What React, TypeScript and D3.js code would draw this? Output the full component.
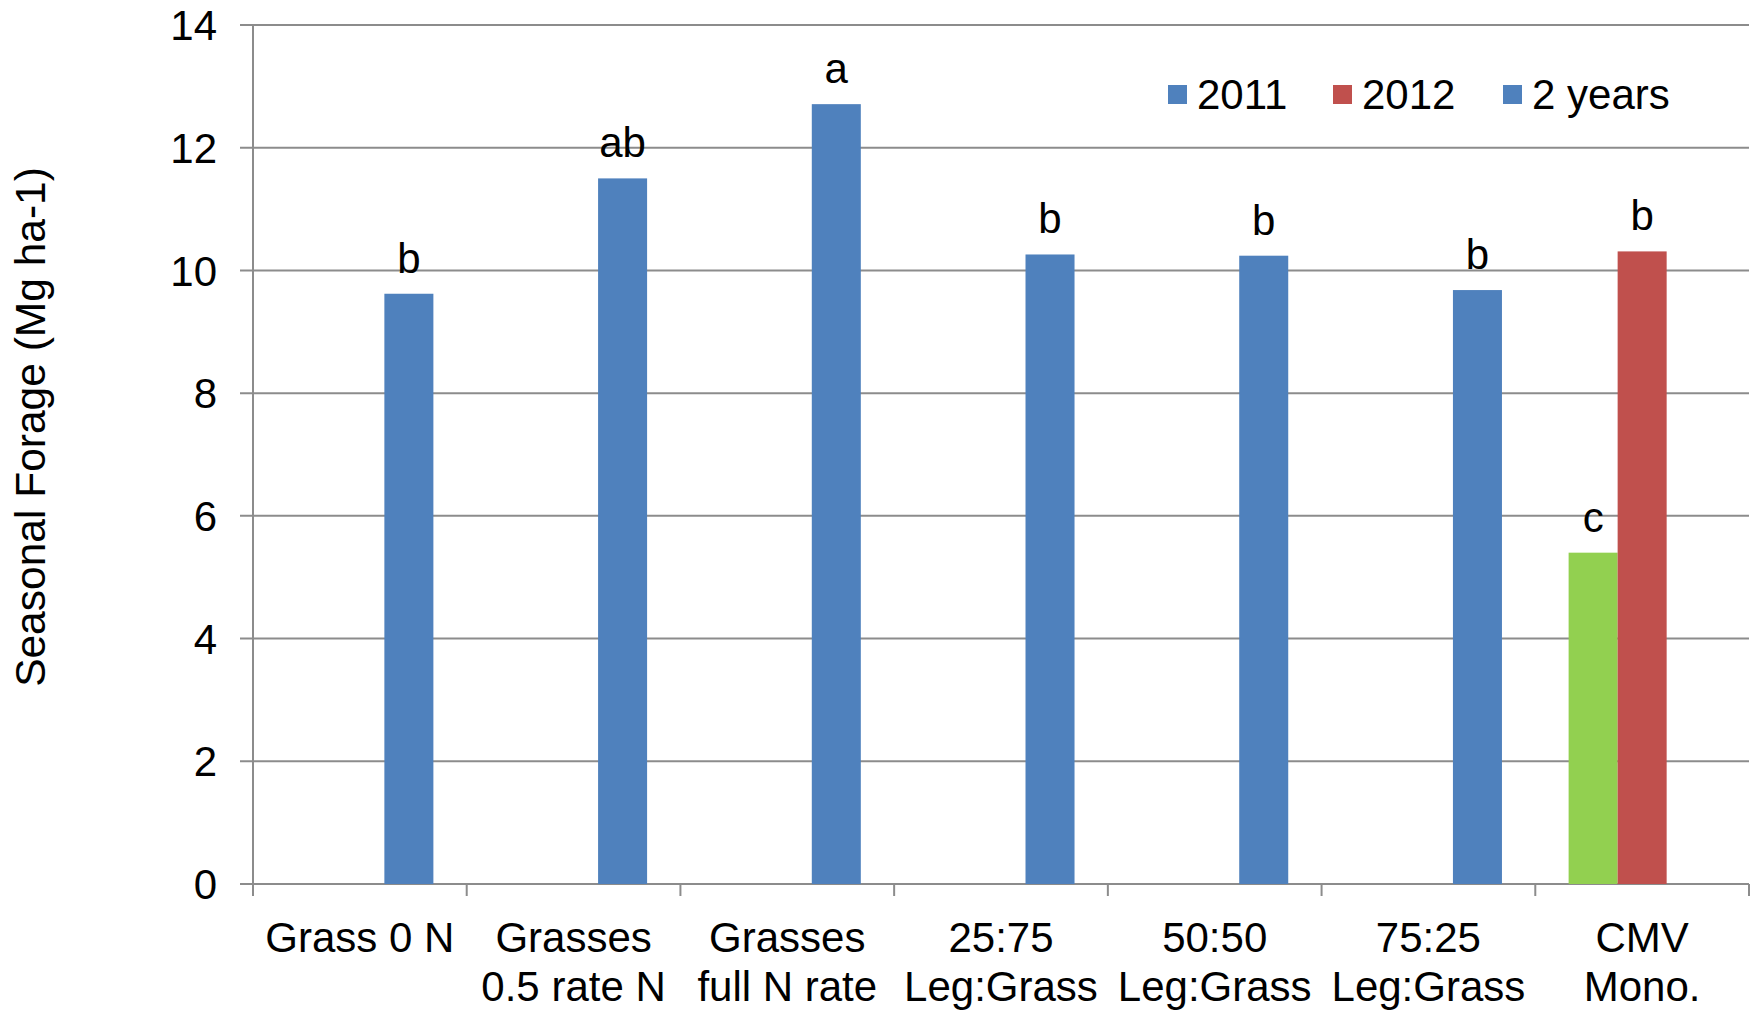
import React from 'react';
import * as d3 from 'd3';

// treatments on the x axis (two-line labels)
const categories = [
    ['Grass 0 N'],
    ['Grasses', '0.5 rate N'],
    ['Grasses', 'full N rate'],
    ['25:75', 'Leg:Grass'],
    ['50:50', 'Leg:Grass'],
    ['75:25', 'Leg:Grass'],
    ['CMV', 'Mono.'],
];
const seriesNames = ['2011', '2012', '2 years'];
const values2011 = [null, null, null, null, null, null, 5.4];
const values2012 = [null, null, null, null, null, null, 10.31];
const valuesTwoYears = [9.62, 11.5, 12.71, 10.26, 10.24, 9.68, null];
const letters2011 = [null, null, null, null, null, null, 'c'];
const letters2012 = [null, null, null, null, null, null, 'b'];
const lettersTwoYears = ['b', 'ab', 'a', 'b', 'b', 'b', null];
const yTicks = [0, 2, 4, 6, 8, 10, 12, 14];

const colours = { '2011': '#4f81bd', '2012': '#c0504d', '2 years': '#4f81bd' };
const greenPoint = '#92d050';

const width = 1758, height = 1011;
const left = 253, right = 1749, top = 25, bottom = 884;
const font = '"Liberation Sans", Arial, sans-serif';
const grid = '#8c8c8c';
const fs = 42;

export default function App() {
    const x = d3.scaleBand().domain(categories.map((c, i) => String(i))).range([left, right]).padding(0);
    const inner = d3.scaleBand().domain(seriesNames).range([0, x.bandwidth()]).paddingInner(0).paddingOuter(0.68);
    const y = d3.scaleLinear().domain([0, 14]).range([bottom, top]);

    const series = [
        { name: '2011', values: values2011, letters: letters2011 },
        { name: '2012', values: values2012, letters: letters2012 },
        { name: '2 years', values: valuesTwoYears, letters: lettersTwoYears },
    ];

    const legendX = [1168, 1333, 1503];

    return (
        <svg width={width} height={height} style={{ position: 'absolute', left: 0, top: 0, background: '#fff' }}
            fontFamily={font}>
            {/* gridlines */}
            {yTicks.map(t => (
                <line key={t} x1={left - 13} x2={right} y1={y(t)} y2={y(t)} stroke={grid} strokeWidth={2} />
            ))}
            <line x1={left} x2={left} y1={top} y2={bottom + 12} stroke={grid} strokeWidth={2} />
            {categories.map((c, i) => (
                <line key={i} x1={x(String(i))! + x.bandwidth()} x2={x(String(i))! + x.bandwidth()}
                    y1={bottom} y2={bottom + 12} stroke={grid} strokeWidth={2} />
            ))}
            {yTicks.map(t => (
                <text key={t} x={217} y={y(t)} dy="0.36em" textAnchor="end" fontSize={fs}>{t}</text>
            ))}

            {/* bars */}
            {series.map(s => s.values.map((v, i) => {
                if (v == null) return null;
                const bx = x(String(i))! + inner(s.name)!;
                const fill = s.name === '2011' ? greenPoint : colours[s.name];
                return (
                    <g key={s.name + i}>
                        <rect x={bx} y={y(v)} width={inner.bandwidth()} height={bottom - y(v)} fill={fill} />
                        {s.letters[i] && (
                            <text x={bx + inner.bandwidth() / 2} y={y(v) - 21} textAnchor="middle" fontSize={fs}>
                                {s.letters[i]}
                            </text>
                        )}
                    </g>
                );
            }))}

            {/* category labels */}
            {categories.map((c, i) => (
                <text key={i} x={x(String(i))! + x.bandwidth() / 2} y={952} textAnchor="middle" fontSize={fs}>
                    {c.map((line, j) => (
                        <tspan key={j} x={x(String(i))! + x.bandwidth() / 2} dy={j === 0 ? 0 : 49}>{line}</tspan>
                    ))}
                </text>
            ))}

            {/* legend */}
            {seriesNames.map((n, i) => (
                <g key={n}>
                    <rect x={legendX[i]} y={85} width={19} height={19} fill={colours[n]} />
                    <text x={legendX[i] + 29} y={109} fontSize={fs}>{n}</text>
                </g>
            ))}

            <text transform={`translate(45, 427) rotate(-90)`} textAnchor="middle" fontSize={42.5}>
                Seasonal Forage (Mg ha-1)
            </text>
        </svg>
    );
}
